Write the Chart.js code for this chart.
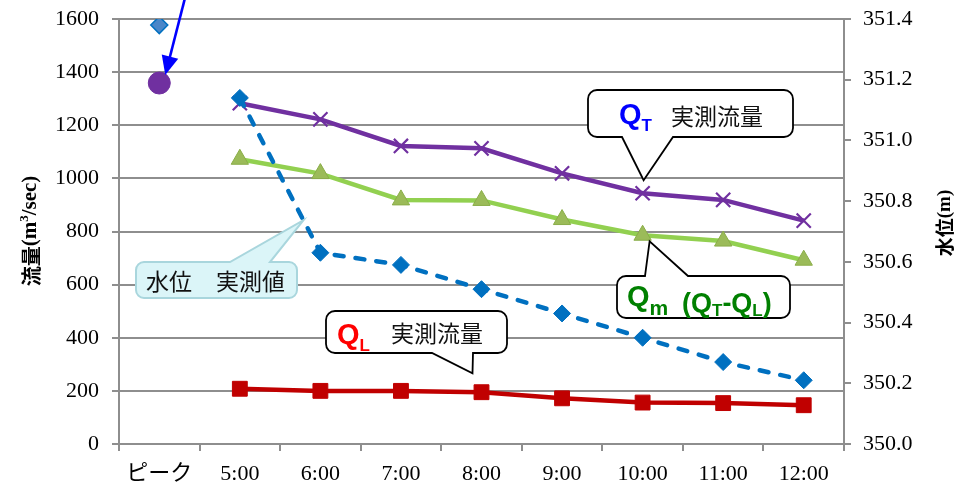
<!DOCTYPE html>
<html>
<head>
<meta charset="utf-8">
<script src="https://cdn.jsdelivr.net/npm/chart.js@4/dist/chart.umd.min.js"></script>
<style>
  html, body { margin: 0; padding: 0; background: #fff; overflow: hidden; }
  canvas { display: block; }
</style>
</head>
<body>
<canvas id="chart" width="966" height="482" style="width:966px;height:482px"></canvas>
<script>
// Time axis categories
const categories = ['ピーク', '5:00', '6:00', '7:00', '8:00', '9:00', '10:00', '11:00', '12:00'];

// Flow (m3/sec), left axis
const totalFlow   = [null, 1283, 1222, 1122, 1113, 1019, 944, 919, 841];   // Q_T
const mainFlow    = [null, 1072, 1018, 919, 917, 845, 786, 764, 692];      // Q_m = Q_T - Q_L
const lateralFlow = [null, 208, 200, 200, 195, 172, 156, 154, 146];        // Q_L
const peakFlow    = [1359, null, null, null, null, null, null, null, null];

// Water level (m), right axis
const waterLevel  = [null, 351.14, 350.63, 350.59, 350.51, 350.43, 350.35, 350.27, 350.21];
const peakLevel   = [351.38, null, null, null, null, null, null, null, null];

// Axis ranges and tick steps
const flowRange  = [0, 1600];
const flowStep   = 200;
const levelRange = [350.0, 351.4];
const levelStep  = 0.2;

const GRID = '#8e8e8e';
const SERIF = "'Liberation Serif', 'Times New Roman', 'Noto Sans CJK JP', serif";
const CJK = "'Noto Sans CJK JP', sans-serif";
const SANS = "'Liberation Sans', Arial, sans-serif";
const tickFont = { family: SERIF, size: 22 };

function buildCallout(ctx, b) {
  const { x, y, w, h, r } = b.box;
  const p = b.pointer;
  ctx.beginPath();
  ctx.moveTo(x + r, y);
  if (p.side === 'top') {
    ctx.lineTo(p.a, y);
    ctx.lineTo(p.tip.x, p.tip.y);
    ctx.lineTo(p.b, y);
  }
  ctx.lineTo(x + w - r, y);
  ctx.arcTo(x + w, y, x + w, y + r, r);
  ctx.lineTo(x + w, y + h - r);
  ctx.arcTo(x + w, y + h, x + w - r, y + h, r);
  if (p.side === 'bottom') {
    ctx.lineTo(p.b, y + h);
    ctx.lineTo(p.tip.x, p.tip.y);
    ctx.lineTo(p.a, y + h);
  }
  ctx.lineTo(x + r, y + h);
  ctx.arcTo(x, y + h, x, y + h - r, r);
  ctx.lineTo(x, y + r);
  ctx.arcTo(x, y, x + r, y, r);
  ctx.closePath();
}

// Draws a run of text pieces one after another; each piece may shift its baseline
function drawRun(ctx, x, y, pieces) {
  let cx = x;
  pieces.forEach(pc => {
    ctx.font = pc.font;
    ctx.fillStyle = pc.color || '#000';
    ctx.textBaseline = pc.baseline || 'alphabetic';
    ctx.textAlign = 'left';
    cx += pc.gap || 0;
    ctx.fillText(pc.t, cx, y + (pc.dy || 0));
    cx += ctx.measureText(pc.t).width;
  });
  return cx;
}

function pt(chart, dsIndex, i) {
  const el = chart.getDatasetMeta(dsIndex).data[i];
  return { x: el.x, y: el.y };
}

const annotations = {
  id: 'annotations',
  afterDatasetsDraw(chart) {
    const ctx = chart.ctx;
    ctx.save();

    // Arrow pointing at the peak discharge
    const peak = pt(chart, 5, 0);
    const tip = { x: peak.x + 6, y: peak.y - 8 };
    const start = { x: tip.x + 21, y: tip.y - 82 };
    const dx = tip.x - start.x, dy = tip.y - start.y;
    const len = Math.hypot(dx, dy);
    const ux = dx / len, uy = dy / len;
    const headLen = 19, headHalf = 8.5;
    const bx = tip.x - ux * headLen, by = tip.y - uy * headLen;
    ctx.strokeStyle = '#0000ff';
    ctx.fillStyle = '#0000ff';
    ctx.lineWidth = 2.6;
    ctx.beginPath();
    ctx.moveTo(start.x, start.y);
    ctx.lineTo(bx + ux * 2, by + uy * 2);
    ctx.stroke();
    ctx.beginPath();
    ctx.moveTo(tip.x, tip.y);
    ctx.lineTo(bx - uy * headHalf, by + ux * headHalf);
    ctx.lineTo(bx + uy * headHalf, by - ux * headHalf);
    ctx.closePath();
    ctx.fill();

    // Callout anchors taken from the plotted series
    const qt10 = pt(chart, 1, 6);
    const qm10 = pt(chart, 2, 6);
    const ql8 = pt(chart, 3, 4);
    const wl5 = pt(chart, 0, 1), wl6 = pt(chart, 0, 2);
    const wlTip = { x: wl5.x + (wl6.x - wl5.x) * 0.79, y: wl5.y + (wl6.y - wl5.y) * 0.79 };

    const callouts = [
      { box: { x: 588, y: 90, w: 205, h: 47, r: 9 },
        pointer: { side: 'bottom', a: 622, b: 673, tip: { x: qt10.x + 1, y: qt10.y - 13 } },
        fill: '#fff', stroke: '#000', lw: 1.8 },
      { box: { x: 617, y: 276, w: 173, h: 42, r: 9 },
        pointer: { side: 'top', a: 645, b: 688, tip: { x: qm10.x + 7, y: qm10.y + 6 } },
        fill: '#fff', stroke: '#000', lw: 1.8 },
      { box: { x: 326, y: 311, w: 181, h: 42, r: 9 },
        pointer: { side: 'bottom', a: 432, b: 473, tip: { x: ql8.x - 9, y: ql8.y - 19 } },
        fill: '#fff', stroke: '#000', lw: 1.8 },
      { box: { x: 136, y: 262, w: 161, h: 36, r: 8 },
        pointer: { side: 'top', a: 230, b: 270, tip: wlTip },
        fill: '#dbf5f8', stroke: '#a9d6dd', lw: 2 }
    ];
    callouts.forEach(c => {
      buildCallout(ctx, c);
      ctx.fillStyle = c.fill;
      ctx.fill();
      ctx.lineJoin = 'miter';
      ctx.strokeStyle = c.stroke;
      ctx.lineWidth = c.lw;
      ctx.stroke();
    });

    const Qbig = `bold 29px ${SANS}`;
    const sub = `bold 17px ${SANS}`;
    const mid = `bold 27px ${SANS}`;
    const jp = `23px ${CJK}`;

    // Q_T callout
    drawRun(ctx, 619, 124, [
      { t: 'Q', font: Qbig, color: '#0000ff' },
      { t: 'T', font: sub, color: '#0000ff', dy: 7 }
    ]);
    drawRun(ctx, 671, 116, [{ t: '実測流量', font: jp, color: '#111', baseline: 'middle' }]);

    // Q_L callout
    drawRun(ctx, 337, 344, [
      { t: 'Q', font: Qbig, color: '#ff0000' },
      { t: 'L', font: sub, color: '#ff0000', dy: 7 }
    ]);
    drawRun(ctx, 391, 333, [{ t: '実測流量', font: jp, color: '#111', baseline: 'middle' }]);

    // Q_m callout
    const g = '#008000';
    drawRun(ctx, 627, 306, [
      { t: 'Q', font: Qbig, color: g },
      { t: 'm', font: `bold 21px ${SANS}`, color: g, dy: 9 }
    ]);
    drawRun(ctx, 682, 312, [
      { t: '(', font: mid, color: g },
      { t: 'Q', font: mid, color: g },
      { t: 'T', font: sub, color: g, dy: 4 },
      { t: '-', font: mid, color: g },
      { t: 'Q', font: mid, color: g },
      { t: 'L', font: sub, color: g, dy: 4 },
      { t: ')', font: mid, color: g }
    ]);

    // Water level callout
    drawRun(ctx, 146, 281, [{ t: '水位', font: jp, color: '#111', baseline: 'middle' }]);
    drawRun(ctx, 216, 281, [{ t: '実測値', font: jp, color: '#111', baseline: 'middle' }]);

    ctx.restore();
  },
  afterDraw(chart) {
    // Axis titles (both read bottom-to-top)
    const ctx = chart.ctx;
    const drawVertical = (cx, cy, pieces) => {
      ctx.save();
      ctx.translate(cx, cy);
      ctx.rotate(-Math.PI / 2);
      let total = 0;
      pieces.forEach(pc => { ctx.font = pc.font; total += ctx.measureText(pc.t).width; });
      drawRun(ctx, -total / 2, 0, pieces.map(pc => Object.assign({ baseline: 'middle' }, pc)));
      ctx.restore();
    };
    const bSerif = `bold 21px ${SERIF}`;
    drawVertical(31, 231, [
      { t: '流量', font: `bold 20px ${CJK}`, color: '#000' },
      { t: '(m', font: bSerif, color: '#000' },
      { t: '3', font: `bold 13px ${SERIF}`, color: '#000', dy: -6 },
      { t: '/sec)', font: bSerif, color: '#000' }
    ]);
    drawVertical(945, 223, [
      { t: '水位', font: `bold 19px ${CJK}`, color: '#000' },
      { t: '(m)', font: `bold 19px ${SERIF}`, color: '#000' }
    ]);
  }
};

new Chart(document.getElementById('chart').getContext('2d'), {
  type: 'line',
  data: {
    labels: categories,
    datasets: [
      { label: '水位 実測値', data: waterLevel, yAxisID: 'y2', order: 0,
        borderColor: '#0070c0', borderWidth: 4.5, borderDash: [9, 12], borderCapStyle: 'round',
        pointStyle: 'rectRot', pointRadius: 8.5, pointBackgroundColor: '#0070c0', pointBorderColor: '#0070c0',
        pointBorderWidth: 1, tension: 0 },
      { label: 'Q_T 実測流量', data: totalFlow, yAxisID: 'y', order: 1,
        borderColor: '#7030a0', borderWidth: 4.5,
        pointStyle: 'crossRot', pointRadius: 10, pointBorderColor: '#7030a0', pointBorderWidth: 2.2,
        tension: 0 },
      { label: 'Q_m', data: mainFlow, yAxisID: 'y', order: 2,
        borderColor: '#92d050', borderWidth: 4.5,
        pointStyle: 'triangle', pointRadius: 10, pointBackgroundColor: '#9bbb59', pointBorderColor: '#8aad48',
        pointBorderWidth: 1, tension: 0 },
      { label: 'Q_L 実測流量', data: lateralFlow, yAxisID: 'y', order: 3,
        borderColor: '#c00000', borderWidth: 4.5,
        pointStyle: 'rect', pointRadius: 10.5, pointBackgroundColor: '#c00000', pointBorderColor: '#c00000',
        pointBorderWidth: 1, tension: 0 },
      { label: 'ピーク水位', data: peakLevel, yAxisID: 'y2', order: 4, showLine: false,
        pointStyle: 'rectRot', pointRadius: 8.5, pointBackgroundColor: '#4a86c8', pointBorderColor: '#0070c0',
        pointBorderWidth: 1.5 },
      { label: 'ピーク流量', data: peakFlow, yAxisID: 'y', order: 5, showLine: false,
        pointStyle: 'circle', pointRadius: 11, pointBackgroundColor: '#7030a0', pointBorderColor: '#7030a0',
        pointBorderWidth: 1 }
    ]
  },
  options: {
    responsive: false,
    animation: false,
    devicePixelRatio: 1,
    layout: { padding: { top: 19, left: 0, right: 0, bottom: 0 } },
    plugins: { legend: { display: false }, tooltip: { enabled: false } },
    scales: {
      x: {
        offset: true,
        grid: { offset: true, drawOnChartArea: false, tickLength: 7, color: GRID, lineWidth: 2 },
        border: { display: true, color: GRID, width: 2 },
        ticks: { font: tickFont, color: '#000', padding: 10.5, autoSkip: false, maxRotation: 0 },
        afterFit(s) { s.height = 38; s.paddingLeft = 0; s.paddingRight = 0; }
      },
      y: {
        position: 'left',
        min: flowRange[0], max: flowRange[1],
        ticks: { stepSize: flowStep, font: tickFont, color: '#000', padding: 13,
                 callback: v => String(v) },
        grid: { color: GRID, lineWidth: 2, tickLength: 7 },
        border: { display: true, color: GRID, width: 2 },
        afterFit(s) { s.width = 119; s.paddingTop = 0; s.paddingBottom = 0; }
      },
      y2: {
        position: 'right',
        min: levelRange[0], max: levelRange[1],
        ticks: { stepSize: levelStep, font: tickFont, color: '#000', padding: 12,
                 callback: v => Number(v).toFixed(1) },
        grid: { drawOnChartArea: false, color: GRID, lineWidth: 2, tickLength: 7 },
        border: { display: true, color: GRID, width: 2 },
        afterFit(s) { s.width = 122; s.paddingTop = 0; s.paddingBottom = 0; }
      }
    }
  },
  plugins: [annotations]
});
</script>
</body>
</html>
